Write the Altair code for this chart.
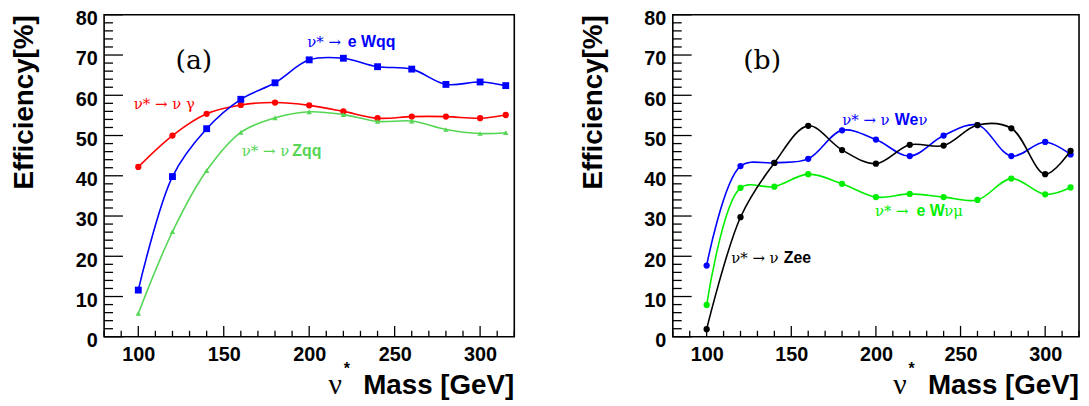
import altair as alt
import pandas as pd

# ---------------- data ----------------
mass = [100, 120, 140, 160, 180, 200, 220, 240, 260, 280, 300, 315]

# panel (a)
eff_eWqq = [11.6, 39.8, 51.7, 59.0, 63.1, 68.8, 69.2, 67.1, 66.5, 62.7, 63.3, 62.4]
eff_nugamma = [42.2, 50.0, 55.4, 57.6, 58.2, 57.5, 56.0, 54.3, 54.7, 54.7, 54.3, 55.1]
eff_nuZqq = [5.8, 26.1, 41.3, 50.8, 54.4, 55.9, 55.2, 53.5, 53.6, 51.5, 50.5, 50.7]

# panel (b)
eff_nuWenu = [17.7, 42.4, 43.2, 44.2, 51.3, 49.0, 44.9, 50.0, 52.6, 44.9, 48.4, 45.3]
eff_nuZee = [1.9, 29.7, 43.2, 52.4, 46.4, 43.0, 47.7, 47.5, 52.6, 51.8, 40.4, 46.2]
eff_eWnumu = [7.9, 37.0, 37.3, 40.4, 38.0, 34.7, 35.5, 34.7, 34.0, 39.3, 35.4, 37.1]

x_labels = [100, 150, 200, 250, 300]
y_labels = [0, 10, 20, 30, 40, 50, 60, 70, 80]
x_minor = list(range(80, 321, 10))
y_minor = list(range(0, 81, 2))

H = 325
SANS = "Liberation Sans"
SERIF = "Liberation Serif"
GREEK = "DejaVu Serif"


def encodings():
    xenc = alt.X(
        "mass:Q",
        scale=alt.Scale(domain=[80, 320], nice=False, zero=False),
        axis=alt.Axis(values=x_labels, ticks=False, domain=False, grid=False,
                      labelPadding=8, title=None, labelFlush=False),
    )
    yenc = alt.Y(
        "eff:Q",
        scale=alt.Scale(domain=[0, 80], nice=False),
        axis=alt.Axis(values=y_labels, ticks=False, domain=False, grid=False,
                      labelPadding=7, labelOffset=4, title="Efficiency[%]",
                      titleAnchor="end", titlePadding=37, labelFlush=False),
    )
    return xenc, yenc


def series(values, color, shape, size):
    xenc, yenc = encodings()
    df = pd.DataFrame({"mass": mass, "eff": values})
    line = alt.Chart(df).mark_line(interpolate="catmull-rom", strokeWidth=1.6,
                                   color=color).encode(x=xenc, y=yenc)
    pts = alt.Chart(df).mark_point(filled=True, shape=shape, size=size, color=color,
                                   opacity=1).encode(x=xenc, y=yenc)
    return [line, pts]


def ticks():
    xenc, yenc = encodings()
    ymaj = pd.DataFrame({"eff": [v for v in y_minor if v % 10 == 0]})
    ymin = pd.DataFrame({"eff": [v for v in y_minor if v % 10 != 0]})
    xmaj = pd.DataFrame({"mass": [v for v in x_minor if v % 50 == 0]})
    xmin = pd.DataFrame({"mass": [v for v in x_minor if v % 50 != 0]})
    return [
        alt.Chart(ymaj).mark_rule(color="black", strokeWidth=1.3).encode(
            y=yenc, x=alt.value(0), x2=alt.value(19)),
        alt.Chart(ymin).mark_rule(color="black", strokeWidth=1.3).encode(
            y=yenc, x=alt.value(0), x2=alt.value(9)),
        alt.Chart(xmaj).mark_rule(color="black", strokeWidth=1.3).encode(
            x=xenc, y=alt.value(H), y2=alt.value(H - 11)),
        alt.Chart(xmin).mark_rule(color="black", strokeWidth=1.3).encode(
            x=xenc, y=alt.value(H), y2=alt.value(H - 6)),
    ]


def txt(s, x, y, color="black", size=16, bold=False, font=SANS, align="left"):
    return alt.Chart(pd.DataFrame({"t": [s]})).mark_text(
        align=align, baseline="alphabetic", font=font, fontSize=size,
        fontWeight="bold" if bold else "normal", color=color,
    ).encode(x=alt.value(x), y=alt.value(y), text="t:N")


def xtitle(W):
    return [
        txt("Mass [GeV]", W, H + 58, size=28, bold=True, align="right"),
        txt("\u03bd", W - 174, H + 58, size=30, font=SERIF, align="right"),
        txt("*", W - 169, H + 38, size=16, bold=True, align="center"),
    ]


BLUE = "#0000ff"
RED = "#ff0000"
LGREEN = "#55d655"
GREEN = "#00ee00"
BLACK = "#000000"

WA = 414
layers_a = (
    ticks()
    + series(eff_nugamma, RED, "circle", 40)
    + series(eff_nuZqq, LGREEN, "triangle-up", 30)
    + series(eff_eWqq, BLUE, "square", 48)
    + [
        txt("(a)", 72, 55, size=27, font=GREEK),
        txt("\u03bd* \u2192 ", 205, 33, BLUE, size=15, font=GREEK),
        txt("e Wqq", 246, 33, BLUE, bold=True),
        txt("\u03bd* \u2192 \u03bd \u03b3", 30, 95, RED, size=15, font=GREEK),
        txt("\u03bd* \u2192 \u03bd", 139, 143, LGREEN, size=15, font=GREEK),
        txt("Zqq", 190, 143, LGREEN, bold=True),
    ]
    + xtitle(WA)
)
panel_a = alt.layer(*layers_a).properties(width=WA, height=H)

WB = 410
layers_b = (
    ticks()
    + series(eff_eWnumu, GREEN, "circle", 40)
    + series(eff_nuWenu, BLUE, "circle", 40)
    + series(eff_nuZee, BLACK, "circle", 40)
    + [
        txt("(b)", 71, 55, size=27, font=GREEK),
        txt("\u03bd* \u2192 \u03bd", 171, 111, BLUE, size=15, font=GREEK),
        txt("We", 224, 111, BLUE, bold=True),
        txt("\u03bd", 248, 111, BLUE, size=15, font=GREEK),
        txt("\u03bd* \u2192", 204, 203, GREEN, size=15, font=GREEK),
        txt("e W", 246, 203, GREEN, bold=True),
        txt("\u03bd\u03bc", 274, 203, GREEN, size=15, font=GREEK),
        txt("\u03bd* \u2192 \u03bd", 59, 251, BLACK, size=15, font=GREEK),
        txt("Zee", 112, 251, BLACK, bold=True),
    ]
    + xtitle(WB)
)
panel_b = alt.layer(*layers_b).properties(width=WB, height=H)

chart = (
    alt.hconcat(panel_a, panel_b, spacing=62)
    .properties(padding={"left": 1, "top": -2, "right": 0, "bottom": 0})
    .configure_view(stroke="black", strokeWidth=1.6)
    .configure_axis(
        labelFont=SANS, labelFontSize=20, labelFontWeight="bold", labelColor="black",
        titleFont=SANS, titleFontSize=28, titleFontWeight="bold", titleColor="black",
    )
)

chart.save("out.html", embed_options={"renderer": "svg", "actions": False})
